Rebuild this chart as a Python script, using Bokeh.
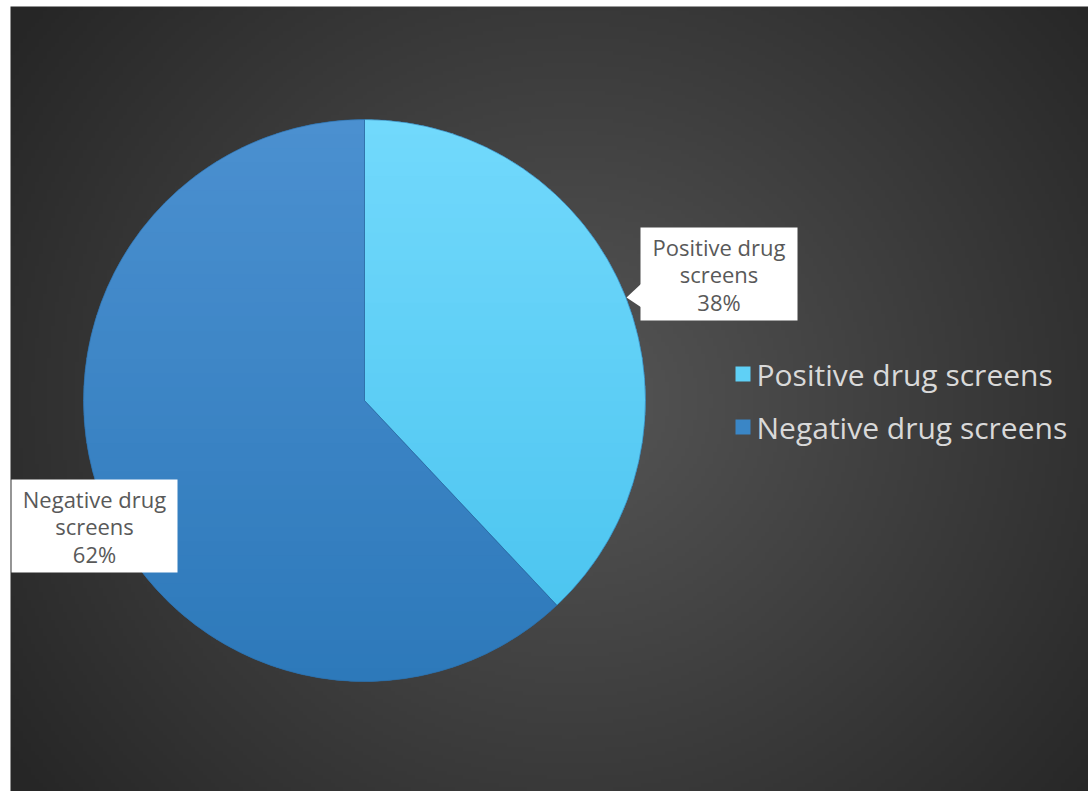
import numpy as np
from bokeh.plotting import figure
from bokeh.models import Range1d
from bokeh.core.properties import value
from bokeh.embed import file_html
from bokeh.resources import INLINE

# ---- data ----
categories = ["Positive drug screens", "Negative drug screens"]
values = [38, 62]
slice_top_colors = ["#72d9fc", "#4b90d0"]
slice_bottom_colors = ["#47c2ee", "#2d79ba"]
legend_colors = ["#5fd0f6", "#3a86c6"]

FONT = "Open Sans"
W, H = 1088, 791
REF_H = 791  # y_data = REF_H - y_pixel


def yd(ypix):
    return REF_H - ypix


p = figure(width=W, height=H, x_range=Range1d(0, W), y_range=Range1d(REF_H - H, REF_H),
           output_backend="svg", toolbar_location=None, x_axis_type=None, y_axis_type=None,
           min_border=0)
p.grid.visible = False
p.outline_line_color = None
p.background_fill_color = "white"
p.border_fill_color = "white"

# ---- background radial gradient ----
nx, ny = 270, 197
bx0, bw = 10, 1079
by0, bh = 0, 785
xs = bx0 + (np.arange(nx) + 0.5) * bw / nx
ys_pix = REF_H - (by0 + (np.arange(ny) + 0.5) * bh / ny)
X, Y = np.meshgrid(xs, ys_pix)
d = np.sqrt((X - 570) ** 2 + ((Y - 400) * 1.05) ** 2)
g = (86 - 48 * np.clip(d / 680, 0, 1)).astype(np.uint8)
img = np.empty((ny, nx), dtype=np.uint32)
view = img.view(dtype=np.uint8).reshape((ny, nx, 4))
view[..., 0] = g
view[..., 1] = g
view[..., 2] = g
view[..., 3] = 255
p.image_rgba(image=[img], x=bx0, y=by0, dw=bw, dh=bh)

# ---- pie ----
cx, cy, r = 364, yd(400), 281
fracs = np.array(values, dtype=float) / sum(values)
cum = np.concatenate([[0], np.cumsum(fracs)])
start_angles = np.pi / 2 - cum[:-1] * 2 * np.pi
end_angles = np.pi / 2 - cum[1:] * 2 * np.pi

p.wedge(x=cx, y=cy, radius=r, start_angle=list(start_angles), end_angle=list(end_angles),
        direction="clock", fill_color=legend_colors, line_color=None)


def hex2rgb(h):
    h = h.lstrip("#")
    return np.array([int(h[i:i + 2], 16) for i in (0, 2, 4)], dtype=float)


def rgb2hex(c):
    return "#%02x%02x%02x" % tuple(int(round(v)) for v in c)


def clip_half(pts, yc, keep_above):
    out = []
    n = len(pts)
    for i in range(n):
        P = pts[i]
        Q = pts[(i + 1) % n]
        pin = P[1] >= yc if keep_above else P[1] <= yc
        qin = Q[1] >= yc if keep_above else Q[1] <= yc
        if pin:
            out.append(P)
        if pin != qin:
            t = (yc - P[1]) / (Q[1] - P[1])
            out.append((P[0] + t * (Q[0] - P[0]), yc))
    return out


nb = 40
edges = np.linspace(cy - r, cy + r, nb + 1)
band_xs, band_ys, band_cols = [], [], []
for k in range(len(values)):
    a = np.linspace(start_angles[k], end_angles[k], 200)
    poly = [(cx, cy)] + [(cx + r * np.cos(t), cy + r * np.sin(t)) for t in a]
    ctop, cbot = hex2rgb(slice_top_colors[k]), hex2rgb(slice_bottom_colors[k])
    for b in range(nb):
        lo, hi = edges[b] - 0.6, edges[b + 1] + 0.6
        pc = clip_half(poly, lo, True)
        if len(pc) < 3:
            continue
        pc = clip_half(pc, hi, False)
        if len(pc) < 3:
            continue
        f = ((edges[b] + edges[b + 1]) / 2 - (cy - r)) / (2 * r)  # 0 bottom, 1 top
        col = cbot + (ctop - cbot) * f
        band_xs.append([q[0] for q in pc])
        band_ys.append([q[1] for q in pc])
        band_cols.append(rgb2hex(col))
p.patches(xs=band_xs, ys=band_ys, fill_color=band_cols, line_color=None)

p.wedge(x=cx, y=cy, radius=r, start_angle=list(start_angles), end_angle=list(end_angles),
        direction="clock", fill_alpha=0, line_color="#2a6aa3", line_alpha=0.55, line_width=1)

# ---- data labels ----
label_boxes = [(640, 797, 227, 320), (11, 177, 479, 572)]
line_pitch = 27.5
for k, cat in enumerate(categories):
    l, rr, t, b = label_boxes[k]
    if k == 0:
        p.patch(x=[626, 641, 641], y=[yd(297), yd(283), yd(307)], fill_color="white", line_color=None)
    p.quad(left=l, right=rr, top=yd(t), bottom=yd(b), fill_color="white", line_color=None)
    first, second = cat.rsplit(" ", 1)
    lines = [first, second, f"{values[k] / sum(values) * 100:.0f}%"]
    mid = (t + b) / 2
    ys = [yd(mid + (i - 1) * line_pitch) for i in range(3)]
    p.text(x=[(l + rr) / 2] * 3, y=ys, text=lines, text_align="center", text_baseline="middle",
           text_font=value(FONT), text_font_size="22px", text_color="#595959")

# ---- legend ----
leg_y = [373.5, 426.5]
p.rect(x=[742.5] * 2, y=[yd(v) for v in leg_y], width=15, height=15,
       fill_color=legend_colors, line_color=None)
p.text(x=[756] * 2, y=[yd(v) for v in leg_y], text=categories, text_align="left",
       text_baseline="middle", text_font=value(FONT), text_font_size="30px", text_color="#d9d9d9")

open("out.html", "w").write(file_html(p, INLINE))
